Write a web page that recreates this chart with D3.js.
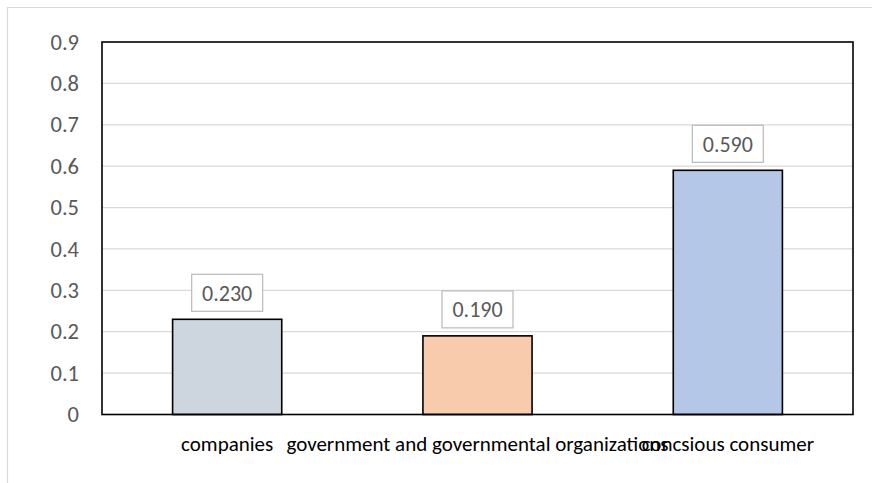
<!DOCTYPE html>
<html>
<head>
<meta charset="utf-8">
<script src="https://cdn.jsdelivr.net/npm/d3@7"></script>
<style>
  html, body { margin: 0; padding: 0; background: #fff; }
  svg { display: block; }
  text { font-family: Carlito, Calibri, Lato, sans-serif; }
</style>
</head>
<body>
<svg id="chart" width="872" height="483"></svg>
<script>
// Chart data
const categories = ["companies", "government and governmental organizations", "concsious consumer"];
const values = [0.23, 0.19, 0.59];
const barColors = ["#cdd5df", "#f7cbac", "#b4c7e7"];
const tickValues = [0, 0.1, 0.2, 0.3, 0.4, 0.5, 0.6, 0.7, 0.8, 0.9];
const tickLabels = ["0", "0.1", "0.2", "0.3", "0.4", "0.5", "0.6", "0.7", "0.8", "0.9"];

const svg = d3.select("#chart");
const plot = { left: 102, right: 853, top: 42, bottom: 414.5 };

// Outer chart frame (runs off the right and bottom edges)
svg.append("path")
  .attr("d", "M7.5,483 V7.5 H872")
  .attr("fill", "none")
  .attr("stroke", "#d9d9d9")
  .attr("stroke-width", 1.2);

const x = d3.scaleBand()
  .domain(categories)
  .range([plot.left, plot.right])
  .paddingInner(0.564)
  .paddingOuter(0.282);

const y = d3.scaleLinear()
  .domain([0, 0.9])
  .range([plot.bottom, plot.top]);

// Horizontal gridlines
svg.append("g")
  .selectAll("line")
  .data(tickValues.filter(v => v > 0 && v < 0.9))
  .join("line")
  .attr("x1", plot.left)
  .attr("x2", plot.right)
  .attr("y1", d => y(d))
  .attr("y2", d => y(d))
  .attr("stroke", "#d9d9d9")
  .attr("stroke-width", 1.2);

// Y axis labels
const yAxis = d3.axisLeft(y)
  .tickValues(tickValues)
  .tickFormat((d, i) => tickLabels[i])
  .tickSize(0)
  .tickPadding(23);
const yg = svg.append("g")
  .attr("transform", `translate(${plot.left},0)`)
  .call(yAxis);
yg.select(".domain").remove();
yg.selectAll("text")
  .attr("fill", "#595959")
  .style("font-size", "22.5px")
  .style("font-family", "Carlito, Calibri, Lato, sans-serif");

// Bars
svg.append("g")
  .selectAll("rect")
  .data(values)
  .join("rect")
  .attr("x", (d, i) => x(categories[i]))
  .attr("y", d => y(d))
  .attr("width", x.bandwidth())
  .attr("height", d => y(0) - y(d))
  .attr("fill", (d, i) => barColors[i])
  .attr("stroke", "#000")
  .attr("stroke-width", 1.6);

// Plot area border
svg.append("rect")
  .attr("x", plot.left)
  .attr("y", plot.top)
  .attr("width", plot.right - plot.left)
  .attr("height", plot.bottom - plot.top)
  .attr("fill", "none")
  .attr("stroke", "#000")
  .attr("stroke-width", 1.6);

// Boxed value labels
const fmt = d3.format(".3f");
const labels = svg.append("g")
  .selectAll("g")
  .data(values)
  .join("g")
  .attr("transform", (d, i) =>
    `translate(${x(categories[i]) + x.bandwidth() / 2},${y(d) - 8 - 18.5})`);
labels.append("rect")
  .attr("x", -35.5)
  .attr("y", -18.5)
  .attr("width", 71)
  .attr("height", 37)
  .attr("fill", "#fff")
  .attr("stroke", "#bfbfbf")
  .attr("stroke-width", 1.3);
labels.append("text")
  .attr("text-anchor", "middle")
  .attr("dy", "0.36em")
  .attr("fill", "#595959")
  .style("font-size", "22px")
  .text(d => fmt(d));

// Category labels
svg.append("g")
  .selectAll("text")
  .data(categories)
  .join("text")
  .attr("x", d => x(d) + x.bandwidth() / 2)
  .attr("y", 451)
  .attr("text-anchor", "middle")
  .attr("fill", "#000")
  .style("font-size", "21px")
  .text(d => d);
</script>
</body>
</html>
